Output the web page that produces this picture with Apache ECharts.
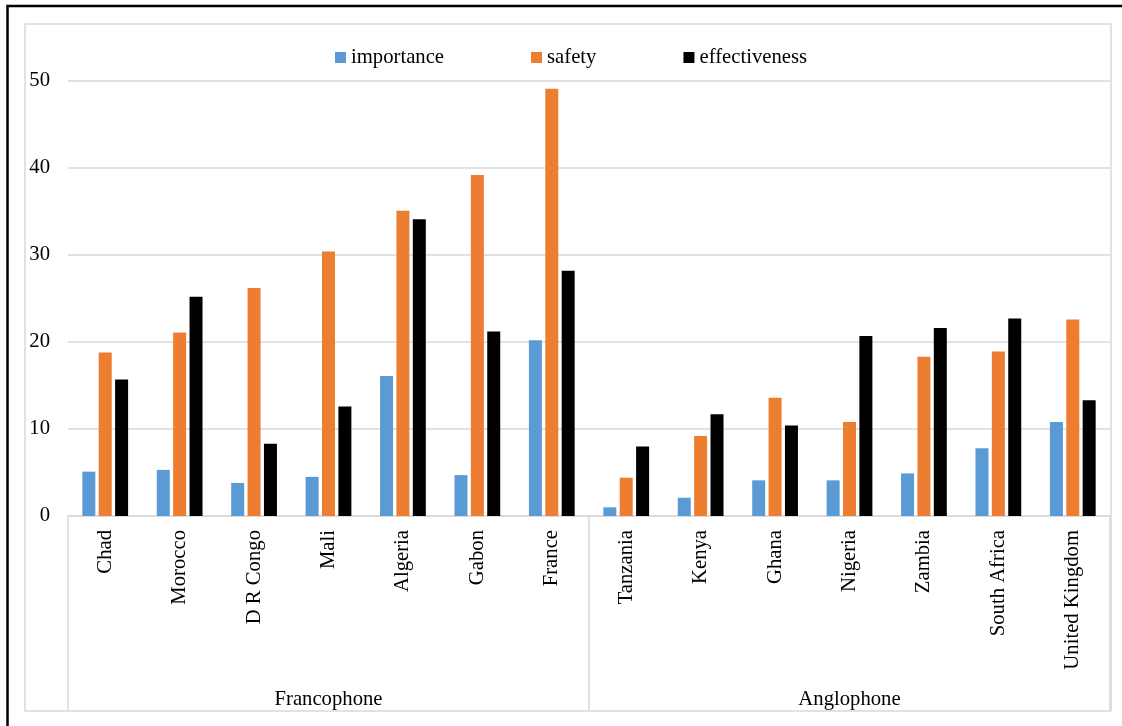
<!DOCTYPE html>
<html>
<head>
<meta charset="utf-8">
<title>importance / safety / effectiveness by country</title>
<script src="https://cdn.jsdelivr.net/npm/echarts@6/dist/echarts.min.js"></script>
<style>
  html, body { margin: 0; padding: 0; background: #fff; }
  #chart { width: 1122px; height: 726px; }
</style>
</head>
<body>
<div id="chart"></div>
<script>
// Countries, in axis order
const countries = ['Chad', 'Morocco', 'D R Congo', 'Mali', 'Algeria', 'Gabon', 'France',
                   'Tanzania', 'Kenya', 'Ghana', 'Nigeria', 'Zambia', 'South Africa', 'United Kingdom'];
// Language groups (each spans seven countries)
const groups = ['Francophone', 'Anglophone'];

// Series values
const importance    = [5.1, 5.3, 3.8, 4.5, 16.1, 4.7, 20.2, 1.0, 2.1, 4.1, 4.1, 4.9, 7.8, 10.8];
const safety        = [18.8, 21.1, 26.2, 30.4, 35.1, 39.2, 49.1, 4.4, 9.2, 13.6, 10.8, 18.3, 18.9, 22.6];
const effectiveness = [15.7, 25.2, 8.3, 12.6, 34.1, 21.2, 28.2, 8.0, 11.7, 10.4, 20.7, 21.6, 22.7, 13.3];

// Value axis ticks
const yTicks = [0, 10, 20, 30, 40, 50];

const FONT = '"Liberation Serif", "Times New Roman", serif';
const FONT_SIZE = 20.7;
const GRID_GRAY = '#d9d9d9';

const chart = echarts.init(document.getElementById('chart'), null, { renderer: 'canvas' });

function barSeries(name, data, color) {
  return {
    name: name,
    type: 'bar',
    data: data,
    barWidth: 13,
    barGap: '26%',
    itemStyle: { color: color },
    emphasis: { disabled: true },
    animation: false
  };
}

chart.setOption({
  animation: false,
  backgroundColor: '#ffffff',
  textStyle: { fontFamily: FONT },
  graphic: [
    // chart area frame
    {
      type: 'rect',
      shape: { x: 25, y: 24, width: 1086, height: 687 },
      style: { fill: 'none', stroke: GRID_GRAY, lineWidth: 1.5 },
      z: -10
    },
    // outer black border (left and top)
    {
      type: 'polyline',
      shape: { points: [[7.5, 726], [7.5, 6], [1122, 6]] },
      style: { fill: 'none', stroke: '#000', lineWidth: 2.5 },
      z: 10
    }
  ],
  legend: {
    left: 335,
    top: 47,
    padding: 0,
    itemWidth: 11,
    itemHeight: 11,
    itemGap: 87,
    icon: 'rect',
    textStyle: { fontFamily: FONT, fontSize: FONT_SIZE, color: '#000' },
    data: ['importance', 'safety', 'effectiveness']
  },
  grid: {
    left: 68,
    right: 12,
    top: 81,
    bottom: 210,
    containLabel: false
  },
  xAxis: [
    {
      type: 'category',
      data: countries,
      position: 'bottom',
      axisLine: { show: true, lineStyle: { color: GRID_GRAY, width: 1.5 } },
      axisTick: { show: false },
      axisLabel: {
        interval: 0,
        rotate: 90,
        margin: 14,
        fontFamily: FONT,
        fontSize: FONT_SIZE,
        color: '#000'
      }
    },
    {
      type: 'category',
      data: groups,
      position: 'bottom',
      axisLine: { show: false },
      axisTick: {
        show: true,
        length: 195,
        interval: 0,
        lineStyle: { color: GRID_GRAY, width: 1.5 }
      },
      axisLabel: {
        interval: 0,
        margin: 173,
        fontFamily: FONT,
        fontSize: FONT_SIZE,
        color: '#000'
      },
      splitLine: { show: false }
    }
  ],
  yAxis: {
    type: 'value',
    min: yTicks[0],
    max: yTicks[yTicks.length - 1],
    interval: yTicks[1] - yTicks[0],
    axisLine: { show: false },
    axisTick: { show: false },
    axisLabel: {
      margin: 18,
      fontFamily: FONT,
      fontSize: FONT_SIZE,
      color: '#000'
    },
    splitLine: { show: true, lineStyle: { color: GRID_GRAY, width: 1.5 } }
  },
  series: [
    barSeries('importance', importance, '#5B9BD5'),
    barSeries('safety', safety, '#ED7D31'),
    barSeries('effectiveness', effectiveness, '#000000')
  ]
});
</script>
</body>
</html>
